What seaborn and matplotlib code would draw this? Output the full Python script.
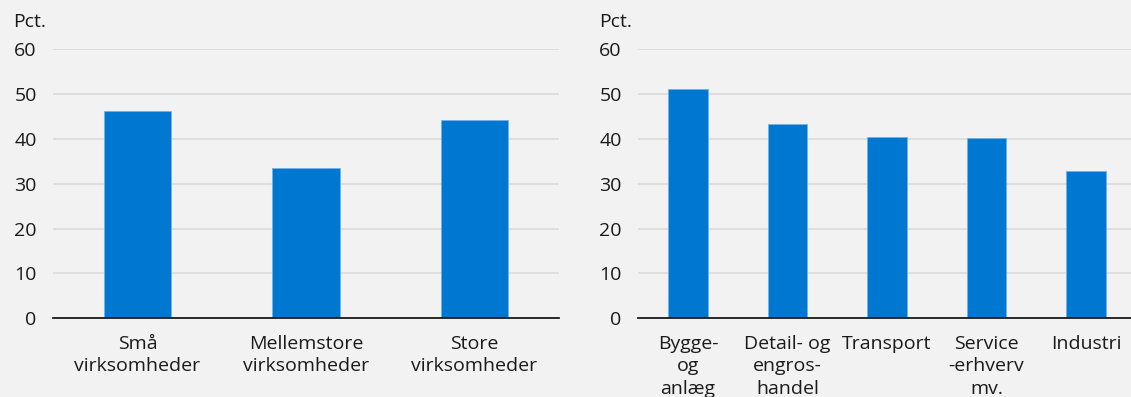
import matplotlib
matplotlib.use("Agg")
import matplotlib.pyplot as plt
import seaborn as sns
import pandas as pd

# Share of firms, by size and by industry (pct.)
size_labels = ["Små\nvirksomheder", "Mellemstore\nvirksomheder", "Store\nvirksomheder"]
size_values = [46.1, 33.4, 44.2]

industry_labels = ["Bygge-\nog\nanlæg", "Detail- og\nengros-\nhandel", "Transport",
                   "Service\n-erhverv\nmv.", "Industri"]
industry_values = [51.0, 43.2, 40.3, 40.1, 32.9]

y_ticks = [0, 10, 20, 30, 40, 50, 60]

BG = "#f2f2f2"
BAR = "#0078d2"
TEXT = "#1a1a1a"
FS = 14

sns.set_theme(style="white")
plt.rcParams["font.family"] = ["Open Sans", "DejaVu Sans"]

W, H = 1131, 397
fig = plt.figure(figsize=(W / 100, H / 100), dpi=100, facecolor=BG)

ax_left = fig.add_axes([53.3 / W, 1 - 318.3 / H, 505.4 / W, 269.3 / H])
ax_right = fig.add_axes([638.3 / W, 1 - 318.3 / H, 497.5 / W, 269.3 / H])


def draw(ax, labels, values):
    df = pd.DataFrame({"kategori": labels, "pct": values})
    sns.barplot(data=df, x="kategori", y="pct", ax=ax, color=BAR, width=0.4,
                saturation=1, edgecolor="#6fb3ea", linewidth=0.6, zorder=3)
    n = len(labels)
    ax.set_facecolor(BG)
    ax.set_xlim(-0.5, n - 0.5)
    ax.set_ylim(0, 60)
    ax.set_yticks(y_ticks)
    ax.set_yticklabels([str(t) for t in y_ticks])
    ax.grid(axis="y", color="#dcdcdc", linewidth=1.3, zorder=0)
    ax.grid(axis="x", visible=False)
    ax.set_axisbelow(True)
    for side in ("top", "right", "left"):
        ax.spines[side].set_visible(False)
    ax.spines["bottom"].set_color(TEXT)
    ax.spines["bottom"].set_linewidth(1.3)
    ax.spines["bottom"].set_zorder(4)
    ax.set_xlabel("")
    ax.set_ylabel("")
    ax.tick_params(axis="y", length=0, pad=12, labelsize=FS, labelcolor=TEXT)
    ax.tick_params(axis="x", which="major", length=0, pad=12, labelsize=FS,
                   labelcolor=TEXT)
    ax.set_xticks([i - 0.5 for i in range(n + 1)], minor=True)
    ax.tick_params(axis="x", which="minor", direction="in", length=5,
                   width=1.1, color=TEXT)
    for lab in ax.get_xticklabels():
        lab.set_linespacing(1.32)


draw(ax_left, size_labels, size_values)
draw(ax_right, industry_labels, industry_values)

fig.text(13 / W, 1 - 22 / H, "Pct.", fontsize=FS, color=TEXT, va="center", ha="left")
fig.text(599 / W, 1 - 22 / H, "Pct.", fontsize=FS, color=TEXT, va="center", ha="left")

fig.savefig("out.png", dpi=100, facecolor=BG)
